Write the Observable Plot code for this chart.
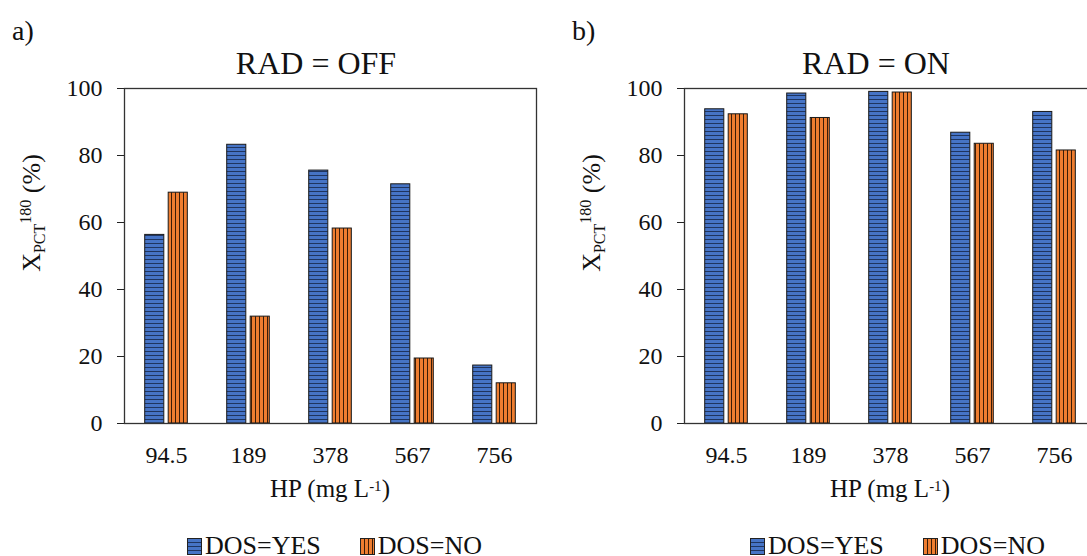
<!DOCTYPE html>
<html>
<head>
<meta charset="utf-8">
<script src="https://cdn.jsdelivr.net/npm/d3@7"></script>
<script src="https://cdn.jsdelivr.net/npm/@observablehq/plot@0.6"></script>
<style>
  html, body { margin: 0; padding: 0; background: #fff; overflow: hidden; }
  #wrap { position: absolute; left: 0; top: 0; width: 1087px; height: 556px; overflow: hidden; font-family: "Liberation Serif", "Times New Roman", serif; color: #111; }
  .abs { position: absolute; white-space: nowrap; }
  .panelTag { font-size: 28px; line-height: 28px; }
  .title { font-size: 32px; line-height: 32px; width: 300px; text-align: center; }
  .xlab { font-size: 25px; line-height: 25px; width: 300px; text-align: center; }
  .xlab sup { font-size: 15px; position: relative; top: -2px; vertical-align: top; }
  .ylab { font-size: 26px; line-height: 30px; height: 30px; width: 200px; text-align: center; transform: rotate(-90deg); }
  .sub { font-size: 16px; position: relative; top: 5px; }
  .sup { font-size: 16px; position: relative; top: -9px; }
  .legend { font-size: 26px; line-height: 26px; }
  .sw { display: inline-block; width: 13px; height: 15px; border: 1px solid #222; vertical-align: baseline; margin-right: 3px; position: relative; top: 1px; }
  .sw.yes { background: repeating-linear-gradient(to bottom, #4674c6 0 3px, #1f3560 3px 4px); }
  .sw.no { background: repeating-linear-gradient(to right, #ee7d30 0 3px, #3a1c06 3px 4px); }
  .plot { position: absolute; top: 80px; }
</style>
</head>
<body>
<div id="wrap"></div>
<script>
// ---- data ----
const hpLevels = ["94.5", "189", "378", "567", "756"];
const offYes = [56.3, 83.2, 75.5, 71.4, 17.3];
const offNo  = [68.9, 31.9, 58.2, 19.4, 12.0];
const onYes  = [93.8, 98.5, 99.0, 86.8, 93.0];
const onNo   = [92.3, 91.2, 98.8, 83.5, 81.5];
const yTicks = [0, 20, 40, 60, 80, 100];
const panelTags = ["a)", "b)"];
const panelTitles = ["RAD = OFF", "RAD = ON"];
const seriesNames = ["DOS=YES", "DOS=NO"];

const wrap = document.getElementById("wrap");

function addPatterns(svg, k) {
  const defs = d3.select(svg).insert("defs", ":first-child");
  const pb = defs.append("pattern").attr("id", "pyes" + k)
    .attr("patternUnits", "userSpaceOnUse").attr("width", 6).attr("height", 4);
  pb.append("rect").attr("width", 6).attr("height", 4).attr("fill", "#4674c6");
  pb.append("rect").attr("y", 3).attr("width", 6).attr("height", 1).attr("fill", "#1f3560");
  const po = defs.append("pattern").attr("id", "pno" + k)
    .attr("patternUnits", "userSpaceOnUse").attr("width", 4).attr("height", 6);
  po.append("rect").attr("width", 4).attr("height", 6).attr("fill", "#ee7d30");
  po.append("rect").attr("x", 3).attr("width", 1).attr("height", 6).attr("fill", "#3a1c06");
}

function makePanel(k, yes, no, left) {
  const rows = hpLevels.map((h, i) => ({hp: h, yes: yes[i], no: no[i]}));
  const svg = Plot.plot({
    width: 560,
    height: 400,
    marginLeft: 124,
    marginRight: 24,
    marginTop: 8,
    marginBottom: 57,
    style: {fontFamily: "Liberation Serif, Times New Roman, serif", fontSize: "24px", color: "#222", background: "transparent", overflow: "visible"},
    x: {domain: hpLevels, padding: 0, label: null, tickSize: 0, tickPadding: 22},
    y: {domain: [0, 100], ticks: yTicks, tickSize: 7, tickPadding: 15, label: null},
    marks: [
      Plot.barY(rows, {x: "hp", y: "yes", fill: `url(#pyes${k})`, stroke: "#1a1a1a", strokeWidth: 1, insetLeft: 19.7, insetRight: 43.2}),
      Plot.barY(rows, {x: "hp", y: "no", fill: `url(#pno${k})`, stroke: "#1a1a1a", strokeWidth: 1, insetLeft: 43.2, insetRight: 19.7}),
      Plot.frame({stroke: "#333", strokeWidth: 1.3})
    ]
  });
  addPatterns(svg, k);
  d3.select(svg).selectAll("text").attr("fill", "#111");
  svg.classList.add("plot");
  svg.style.left = left + "px";
  wrap.appendChild(svg);

  const plotCenter = left + 124 + 206;

  const tag = document.createElement("div");
  tag.className = "abs panelTag";
  tag.style.left = (left + 12) + "px";
  tag.style.top = "17px";
  tag.textContent = panelTags[k];
  wrap.appendChild(tag);

  const title = document.createElement("div");
  title.className = "abs title";
  title.style.left = (plotCenter - 14 - 150) + "px";
  title.style.top = "47px";
  title.textContent = panelTitles[k];
  wrap.appendChild(title);

  const xl = document.createElement("div");
  xl.className = "abs xlab";
  xl.style.left = (plotCenter - 150) + "px";
  xl.style.top = "476px";
  xl.innerHTML = "HP (mg L<sup>-1</sup>)";
  wrap.appendChild(xl);

  const yl = document.createElement("div");
  yl.className = "abs ylab";
  yl.style.left = (left + 31.6 - 100) + "px";
  yl.style.top = (213 - 15) + "px";
  yl.innerHTML = 'X<span class="sub">PCT</span><span class="sup">180</span> (%)';
  wrap.appendChild(yl);

  const lg = document.createElement("div");
  lg.className = "abs legend";
  lg.style.left = (left + (k === 0 ? 187 : 190)) + "px";
  lg.style.top = "533px";
  lg.innerHTML = `<span class="sw yes"></span>${seriesNames[0]}<span style="display:inline-block;width:39px"></span><span class="sw no"></span>${seriesNames[1]}`;
  wrap.appendChild(lg);
}

makePanel(0, offYes, offNo, 0);
makePanel(1, onYes, onNo, 560);
</script>
</body>
</html>
